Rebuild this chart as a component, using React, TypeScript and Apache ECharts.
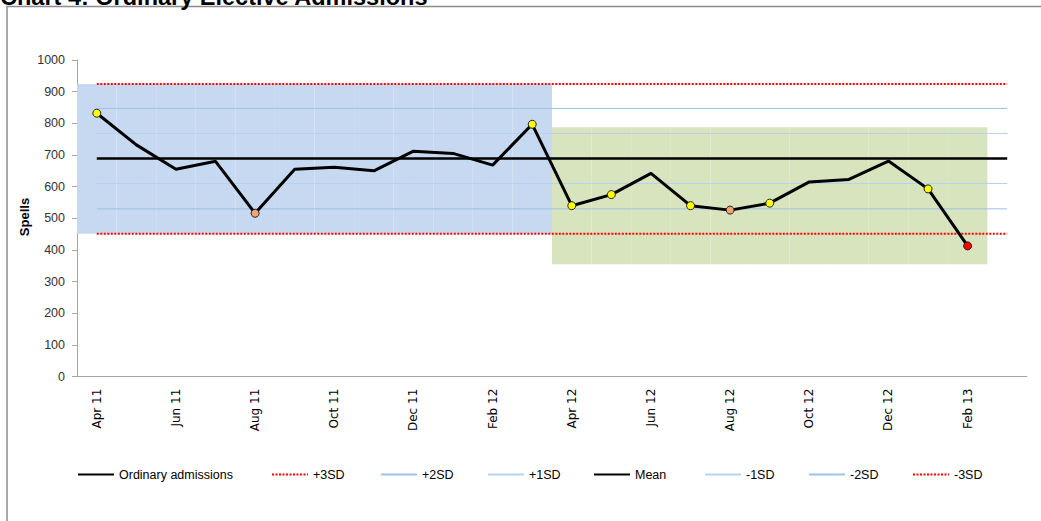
import React, { useEffect, useRef } from "react";
import * as echarts from "echarts";

const months = [
  "Apr 11", "May 11", "Jun 11", "Jul 11", "Aug 11", "Sep 11", "Oct 11", "Nov 11",
  "Dec 11", "Jan 12", "Feb 12", "Mar 12", "Apr 12", "May 12", "Jun 12", "Jul 12",
  "Aug 12", "Sep 12", "Oct 12", "Nov 12", "Dec 12", "Jan 13", "Feb 13", "Mar 13",
];
const admissions: (number | null)[] = [
  832, 732, 655, 680, 516, 655, 661, 650, 712, 705, 668, 797,
  540, 575, 642, 540, 526, 548, 615, 623, 681, 593, 413, null,
];
// flagged points: "run" (yellow), "trend" (orange), "limit" (red)
const signals: (string | null)[] = [
  "run", null, null, null, "trend", null, null, null, null, null, null, "run",
  "run", "run", null, "run", "trend", "run", null, null, null, "run", "limit", null,
];
// shaded periods: period index per month
const periods: (number | null)[] = [
  0, 0, 0, 0, 0, 0, 0, 0, 0, 0, 0, 0,
  1, 1, 1, 1, 1, 1, 1, 1, 1, 1, 1, null,
];
const periodLow = [451, 355];
const periodHigh = [924, 788];

const limitNames = ["+3SD", "+2SD", "+1SD", "Mean", "-1SD", "-2SD", "-3SD"];
const limitValues = [924, 847, 768, 689, 610, 530, 451];

const yTicks = [0, 100, 200, 300, 400, 500, 600, 700, 800, 900, 1000];

const legendNames = ["Ordinary admissions", ...limitNames];
const legendLeft = [77, 271, 380, 487, 593, 704, 808, 912];

const signalColor: Record<string, string> = {
  run: "#ffff00",
  trend: "#f4a373",
  limit: "#ff0000",
};
const periodColor = ["#c6d9f1", "#d7e4bd"];

const limitStyle: Record<string, any> = {
  "+3SD": { color: "#ff0000", width: 2, type: [2, 1.5] },
  "+2SD": { color: "#9dc3e6", width: 1, type: "solid" },
  "+1SD": { color: "#b4d3ee", width: 1, type: "solid" },
  Mean: { color: "#000000", width: 2.5, type: "solid" },
  "-1SD": { color: "#b4d3ee", width: 1, type: "solid" },
  "-2SD": { color: "#9dc3e6", width: 1, type: "solid" },
  "-3SD": { color: "#ff0000", width: 2, type: [2, 1.5] },
};

export default function App() {
  const ref = useRef<HTMLDivElement>(null);
  useEffect(() => {
    if (!ref.current) return;
    const chart = echarts.init(ref.current, null, { renderer: "svg" });

    const bandBase = periods.map((p) => (p == null ? null : periodLow[p]));
    const bandSize = periods.map((p) =>
      p == null
        ? null
        : { value: periodHigh[p] - periodLow[p], itemStyle: { color: periodColor[p] } }
    );

    const admissionData = admissions.map((v, i) => {
      const s = signals[i];
      if (v == null) return null;
      if (!s) return v;
      return {
        value: v,
        symbol: "circle",
        symbolSize: 8,
        itemStyle: { color: signalColor[s], borderColor: "#222", borderWidth: 1 },
      };
    });

    const limitSeries = limitNames.map((name, k) => ({
      name,
      type: "line",
      data: months.map(() => limitValues[k]),
      symbol: "none",
      silent: true,
      z: name === "Mean" ? 4 : 3,
      lineStyle: limitStyle[name],
      itemStyle: { color: limitStyle[name].color },
    }));

    const legends = legendNames.map((name, i) => ({
      data: [name],
      left: legendLeft[i],
      top: 468,
      padding: 0,
      itemWidth: 36,
      itemHeight: 12,
      itemGap: 0,
      selectedMode: false,
      itemStyle: { opacity: 0 },
      textStyle: {
        fontFamily: "'Liberation Sans', Arial, sans-serif",
        fontSize: 12.5,
        color: "#000",
      },
    }));

    chart.setOption({
      animation: false,
      backgroundColor: "#ffffff",
      graphic: [
        {
          type: "rect",
          shape: { x: 7, y: 6.5, width: 1100, height: 600 },
          style: { fill: "none", stroke: "#8c8c8c", lineWidth: 1.5 },
          silent: true,
        },
        {
          type: "text",
          x: 0,
          y: -3,
          style: {
            text: "Chart 4: Ordinary Elective Admissions",
            font: "bold 23.5px 'Liberation Sans', Arial, sans-serif",
            fill: "#000",
            verticalAlign: "middle",
          },
          silent: true,
        },
        {
          type: "text",
          x: 24,
          y: 217,
          rotation: Math.PI / 2,
          style: {
            text: "Spells",
            font: "bold 13px 'Liberation Sans', Arial, sans-serif",
            fill: "#000",
            align: "center",
            verticalAlign: "middle",
          },
          silent: true,
        },
      ],
      grid: { left: 77, right: 14, top: 60, bottom: 144.3, containLabel: false },
      legend: legends,
      xAxis: {
        type: "category",
        data: months,
        boundaryGap: true,
        axisLine: { show: true, lineStyle: { color: "#a6a6a6", width: 1 } },
        axisTick: { show: false },
        axisLabel: {
          interval: 1,
          rotate: 90,
          margin: 12,
          fontFamily: "'DejaVu Sans', sans-serif",
          fontSize: 12,
          color: "#000",
        },
        splitLine: { show: false },
      },
      yAxis: {
        type: "value",
        min: yTicks[0],
        max: yTicks[yTicks.length - 1],
        interval: 100,
        axisLine: { show: true, lineStyle: { color: "#a6a6a6", width: 1 } },
        axisTick: { show: true, inside: false, length: 5, lineStyle: { color: "#a6a6a6" } },
        axisLabel: {
          margin: 12,
          formatter: (v: number) => String(v),
          fontFamily: "'Liberation Sans', Arial, sans-serif",
          fontSize: 12.5,
          color: "#333333",
        },
        splitLine: { show: false },
      },
      series: [
        {
          name: "bandBase",
          type: "bar",
          stack: "band",
          data: bandBase,
          barCategoryGap: "0%",
          itemStyle: { color: "transparent" },
          silent: true,
          z: 1,
        },
        {
          name: "band",
          type: "bar",
          stack: "band",
          data: bandSize,
          barCategoryGap: "0%",
          silent: true,
          z: 1,
        },
        ...limitSeries,
        {
          name: "Ordinary admissions",
          type: "line",
          data: admissionData,
          symbol: "none",
          showSymbol: true,
          z: 5,
          lineStyle: { color: "#000", width: 3 },
          itemStyle: { color: "#000" },
        },
      ],
    });
    return () => chart.dispose();
  }, []);

  return (
    <div
      ref={ref}
      style={{ position: "fixed", left: 0, top: 0, width: 1041, height: 521 }}
    />
  );
}
